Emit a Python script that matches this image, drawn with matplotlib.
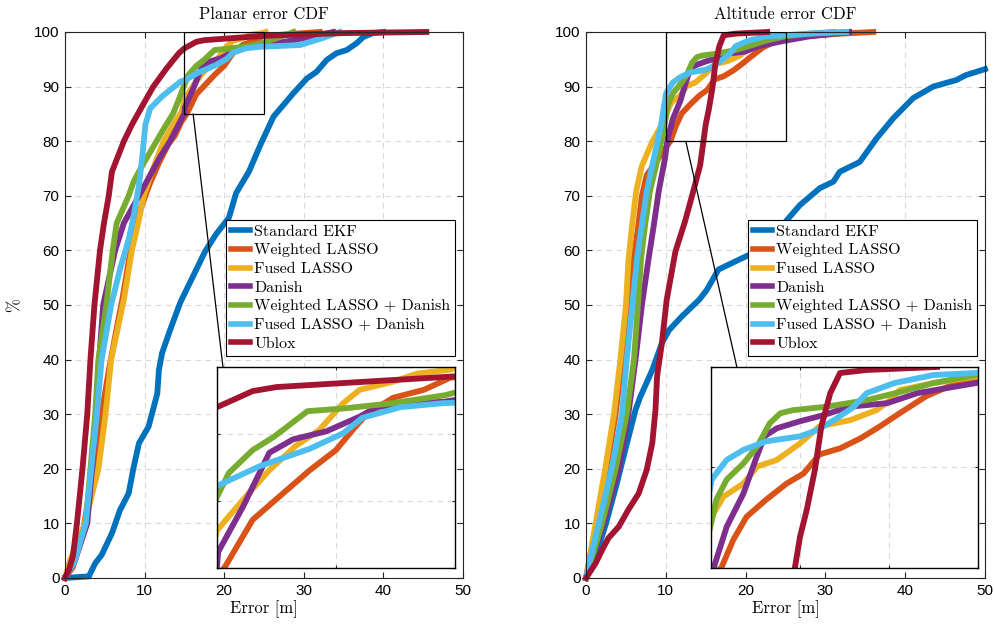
import numpy as np
import matplotlib
matplotlib.use("Agg")
import matplotlib.pyplot as plt
from matplotlib.patches import Rectangle, ConnectionPatch

labels = ["Standard EKF", "Weighted LASSO", "Fused LASSO", "Danish",
          "Weighted LASSO + Danish", "Fused LASSO + Danish", "Ublox"]
colors = ["#0072BD", "#D95319", "#EDB120", "#7E2F8E", "#77AC30", "#4DBEEE", "#A2142F"]

# ---- planar error CDF (x = error [m], y = %) ----
pl_ekf_x = [0, 3.0, 3.8, 4.6, 5.9, 6.9, 8.0, 8.6, 9.3, 10.5, 11.6, 11.8, 12.2, 13.2, 14.5, 16.0, 17.6, 19.0,
            20.6, 21.5, 23.1, 24.6, 26.2, 28.7, 30.4, 31.6, 32.9, 34.1, 35.4, 36.6, 37.5, 38.7, 40.0]
pl_ekf_y = [0, 0.3, 2.7, 4.2, 8.2, 12.4, 15.5, 20.1, 24.7, 27.7, 33.8, 38.1, 41.2, 45.4, 50.5, 55, 59.8, 63,
            66, 70.5, 74.4, 79.5, 84.5, 88.8, 91.5, 92.7, 94.9, 96.1, 96.7, 97.9, 99.1, 99.8, 100]
pl_wl_x = [0, 1, 2.2, 3.0, 3.8, 4.6, 5.5, 6.4, 7.2, 8.0, 8.8, 9.6, 10.6, 11.8, 13.0, 13.8, 14.6, 15.34, 16.5,
           17.6, 18.9, 20.0, 20.7, 21.3, 22.4, 23.7, 24.8, 28.0, 32.0]
pl_wl_y = [0, 2, 8, 15, 22, 30, 38, 45, 51, 58, 64, 68, 72, 76, 79.5, 81, 83.5, 85.1, 88.6,
           90.3, 92.3, 93.8, 95.3, 96.5, 97.7, 98.3, 99.2, 99.6, 100]
pl_fl_x = [0, 0.7, 2.5, 4.2, 5.1, 5.8, 7.4, 8.4, 9.2, 9.9, 10.7, 11.6, 12.4, 13.6, 14.7, 15.0, 16.1, 17.2,
           18.3, 19.3, 20.3, 21.0, 22.4, 23.4, 24.8, 25.2]
pl_fl_y = [0, 3.5, 10, 20, 30, 40, 51, 60, 65, 70, 73.5, 77, 80, 83, 85.5, 87.8, 90.1, 92.3,
           94.1, 95.3, 97.3, 98.3, 98.9, 99.5, 99.8, 100]
pl_da_x = [0, 1.2, 2.8, 3.4, 3.9, 4.3, 4.8, 6.3, 7.4, 9.3, 10.6, 11.9, 13.2, 15.0, 15.05, 16.1, 17.2, 18.2,
           19.6, 21.0, 21.7, 23.1, 24.5, 28.7, 33.7]
pl_da_y = [0, 3, 10, 20, 30, 40, 50, 60, 65, 70, 73.5, 77, 80, 85.1, 86.2, 89.6, 93.6, 94.6,
           95.2, 96.3, 97.0, 97.3, 97.4, 98.5, 100]
pl_wld_x = [0, 1.0, 2.6, 3.2, 3.8, 4.2, 5.2, 6.0, 6.5, 8.0, 8.6, 9.5, 10.5, 11.5, 12.5, 13.6, 14.4, 15.0,
            15.5, 16.5, 17.4, 18.8, 20.3, 22.4, 24.6, 26.5, 28.7]
pl_wld_y = [0, 3, 10, 20, 30, 40, 50, 60, 65, 70, 72.5, 75, 77.5, 80, 82.5, 85.1, 88, 90.3,
            92.1, 93.8, 94.8, 96.7, 96.9, 97.3, 97.9, 98.8, 100]
pl_fld_x = [0, 1.2, 2.6, 3.3, 4.0, 4.6, 5.8, 7.0, 8.0, 8.6, 9.3, 9.7, 10.1, 10.7, 12.2, 14.5, 15.1, 16.8,
            18.9, 20.3, 21.1, 22.7, 24.5, 29.5, 32.4, 34.5]
pl_fld_y = [0, 3, 10, 20, 30, 40, 50, 57, 62, 66, 72, 77, 83, 86, 88.2, 90.9, 91.2, 92.6,
            93.9, 95.05, 96.2, 97.0, 97.3, 97.6, 98.9, 100]
pl_ub_x = [0, 0.5, 1.0, 1.5, 2.2, 2.8, 3.2, 3.7, 4.4, 4.9, 5.5, 5.9, 7.4, 8.4, 10.0, 11.1, 12.8, 14.3, 15.0,
           16.5, 17.5, 20.3, 25, 35, 45.4]
pl_ub_y = [0, 1.5, 4, 10, 20, 30, 40, 50, 60, 65, 70, 74.4, 80, 83, 87.2, 90, 93.4, 96.1, 97.0,
           98.2, 98.5, 98.8, 99.3, 99.8, 100]

# ---- altitude error CDF ----
al_ekf_x = [0, 1.0, 2.5, 3.8, 4.9, 6.2, 6.8, 8.3, 9.5, 10.4, 12.0, 14.2, 15.1, 16.6, 19.3, 21.2, 23.9, 26.8,
            29.3, 31.0, 31.8, 34.3, 36.4, 38.5, 41.0, 43.5, 46.4, 47.6, 50.0]
al_ekf_y = [0, 3, 10, 17, 23.4, 30.8, 33.2, 38.1, 43, 45.4, 47.9, 51, 52.7, 56.5, 58.4, 59.7, 63.4, 68.3,
            71.4, 72.6, 74.4, 76.2, 80.5, 84.2, 87.9, 90.0, 91.2, 92.1, 93.2]
al_wl_x = [0, 0.5, 1.3, 2.6, 3.7, 4.5, 5.3, 5.9, 6.5, 7.0, 7.6, 9.1, 10.6, 11.25, 12.0, 13.1, 14.25, 15.2,
           16.1, 17.25, 18.4, 19.5, 20.6, 22.1, 23.4, 24.9, 28, 32, 36]
al_wl_y = [0, 4, 10, 20, 30, 40, 50, 58, 64, 70, 73.8, 76.9, 80.1, 82.8, 85.1, 86.8, 88.4, 89.4,
           91.3, 91.9, 92.9, 94.1, 95.4, 97.1, 98.1, 98.7, 99.3, 99.7, 100]
al_fl_x = [0, 0.5, 1.2, 2.4, 3.5, 4.3, 5.0, 5.3, 5.8, 6.3, 7.0, 8.3, 9.5, 10.04, 10.7, 11.82, 12.6, 13.7,
           15.0, 16.1, 17.8, 19.3, 20.06, 20.6, 22.5, 24.9, 28, 32]
al_fl_y = [0, 4, 10, 20, 30, 40, 50, 58, 65, 71, 75.5, 79.9, 83, 85.1, 87.1, 88.4, 90.1, 90.75,
           92.4, 94.1, 94.7, 95.7, 96.7, 97.7, 98.4, 99.05, 99.6, 100]
al_da_x = [0, 0.8, 2.2, 4.1, 5.3, 6.2, 7.0, 7.85, 8.5, 9.1, 9.9, 10.2, 10.88, 11.82, 12.5, 13.0, 13.7, 15.0,
           16.3, 17.8, 19.9, 21.6, 24.9, 28, 33]
al_da_y = [0, 4, 10, 20, 30, 40, 50, 58.6, 64.7, 70.8, 76.9, 80.3, 84.1, 87.4, 90.75, 93.1, 93.9, 94.6,
           95.2, 96.05, 96.4, 97.4, 98.4, 99.2, 100]
al_wld_x = [0, 0.8, 2.0, 3.7, 5.1, 6.0, 6.5, 6.9, 7.4, 8.0, 9.0, 9.7, 10.3, 10.88, 11.82, 12.6, 13.3, 13.9,
            14.6, 16.5, 18.75, 20.6, 22.5, 24.9, 28, 31]
al_wld_y = [0, 4, 10, 20, 30, 40, 50, 58.6, 64.7, 70.8, 76.9, 82, 86.8, 88.8, 90.4, 92.1, 94.4, 95.4,
            95.7, 96.05, 96.7, 97.5, 98.4, 99.2, 99.7, 100]
al_fld_x = [0, 0.6, 1.6, 3.2, 4.5, 5.1, 5.8, 6.4, 7.0, 7.6, 8.5, 9.4, 10.04, 10.88, 11.82, 13.1, 15.0, 15.94,
            16.9, 18.0, 18.75, 20.3, 22.5, 24.9, 28, 32.6]
al_fld_y = [0, 4, 10, 20, 30, 40, 50, 58.6, 64.7, 70.8, 76.9, 83, 88.8, 90.75, 91.75, 92.6, 93.1, 93.7,
            94.7, 96.0, 97.4, 98.4, 99.2, 99.4, 99.7, 100]
al_ub_x = [0, 1.2, 2.0, 2.8, 4.1, 5.3, 6.6, 7.6, 8.3, 8.7, 8.9, 9.5, 10.1, 11.2, 12.4, 13.3, 14.3, 14.72,
           15.0, 15.38, 15.84, 16.2, 16.7, 17.25, 18.75, 22.7]
al_ub_y = [0, 2.7, 5.1, 7.3, 9.4, 12.5, 15.5, 19.8, 24.7, 30.8, 36.9, 43, 50.9, 59.8, 65.3, 70.1, 75.6, 80.1,
           83.1, 85.8, 89.8, 94.1, 97.4, 99.4, 99.7, 100]

planar = [(pl_ekf_x, pl_ekf_y), (pl_wl_x, pl_wl_y), (pl_fl_x, pl_fl_y), (pl_da_x, pl_da_y),
          (pl_wld_x, pl_wld_y), (pl_fld_x, pl_fld_y), (pl_ub_x, pl_ub_y)]
altitude = [(al_ekf_x, al_ekf_y), (al_wl_x, al_wl_y), (al_fl_x, al_fl_y), (al_da_x, al_da_y),
            (al_wld_x, al_wld_y), (al_fld_x, al_fld_y), (al_ub_x, al_ub_y)]

SERIF = "cmr10"
TICKFONT = "Liberation Sans"
LW = 4.2
GRIDC = "#d9d9d9"

fig = plt.figure(figsize=(9.95, 6.26), dpi=100)


def style_axes(ax, labels_on=True):
    ax.grid(True, linestyle=(0, (5, 4)), color=GRIDC, linewidth=0.8)
    ax.set_axisbelow(True)
    for s in ax.spines.values():
        s.set_color("#262626")
        s.set_linewidth(0.8)
    ax.tick_params(direction="in", top=True, right=True, length=4, width=0.8, color="#262626",
                   labelsize=11, pad=4)
    for t in ax.get_xticklabels() + ax.get_yticklabels():
        t.set_fontfamily(TICKFONT)
    if not labels_on:
        ax.tick_params(labelbottom=False, labelleft=False, length=2)


panels = [
    dict(rect=[0.0653, 0.0767, 0.4, 0.8722], data=planar, title="Planar error CDF",
         zoom=(15, 25, 85, 100), inset=[0.2181, 0.0927, 0.2392, 0.3211],
         link_main=(16.1, 85), link_inset=(15.25, 100),
         inx=[15, 20, 25], iny=[85, 90, 95, 100]),
    dict(rect=[0.589, 0.0767, 0.401, 0.8722], data=altitude, title="Altitude error CDF",
         zoom=(10, 25, 80, 100), inset=[0.7146, 0.0927, 0.2683, 0.3211],
         link_main=(12.5, 80), link_inset=(11.45, 100),
         inx=[10, 15, 20, 25], iny=[80, 90, 100]),
]

for i, p in enumerate(panels):
    ax = fig.add_axes(p["rect"])
    for (x, y), c, lab in zip(p["data"], colors, labels):
        ax.plot(x, y, color=c, lw=LW, label=lab, clip_on=False, solid_joinstyle="round")
    ax.set_xlim(0, 50)
    ax.set_ylim(0, 100)
    ax.set_xticks(np.arange(0, 51, 10))
    ax.set_yticks(np.arange(0, 101, 10))
    style_axes(ax)
    ax.set_title(p["title"], fontfamily=SERIF, fontsize=12, pad=9)
    ax.set_xlabel("Error [m]", fontfamily=SERIF, fontsize=12, labelpad=2)
    if i == 0:
        ax.set_ylabel("%", fontfamily=SERIF, fontsize=12, labelpad=8)

    leg = ax.legend(loc="upper right", bbox_to_anchor=(0.98, 0.656), borderaxespad=0,
                    prop={"family": SERIF, "size": 11.5}, handlelength=1.2, handletextpad=0.25,
                    labelspacing=0.28, borderpad=0.3, fancybox=False, framealpha=1,
                    edgecolor="black")
    leg.get_frame().set_linewidth(0.8)
    for h in leg.get_lines():
        h.set_linewidth(4)

    x0, x1, y0, y1 = p["zoom"]
    ax.add_patch(Rectangle((x0, y0), x1 - x0, y1 - y0, fill=False, edgecolor="black",
                           linewidth=0.9, zorder=5))

    ins = fig.add_axes(p["inset"])
    ins.set_zorder(10)
    for (x, y), c in zip(p["data"], colors):
        ins.plot(x, y, color=c, lw=LW, solid_joinstyle="round")
    ins.set_xlim(x0, x1)
    ins.set_ylim(y0, y1)
    ins.set_xticks(p["inx"])
    ins.set_yticks(p["iny"])
    style_axes(ins, labels_on=False)
    for s in ins.spines.values():
        s.set_color("black")
        s.set_linewidth(1.0)

    con = ConnectionPatch(xyA=p["link_main"], coordsA=ax.transData,
                          xyB=p["link_inset"], coordsB=ins.transData,
                          color="black", linewidth=0.9, zorder=6)
    fig.add_artist(con)

fig.savefig("out.png", dpi=100)
